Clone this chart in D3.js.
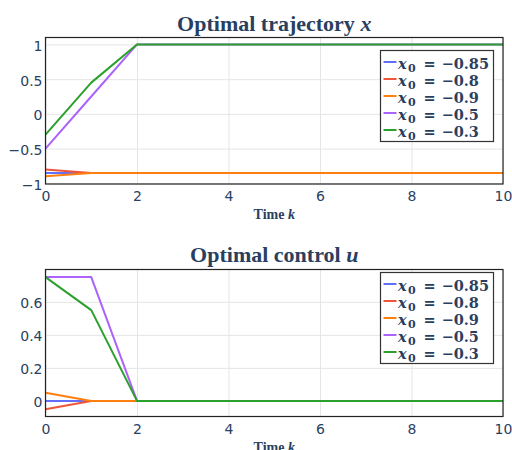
<!DOCTYPE html>
<html>
<head>
<meta charset="utf-8">
<script src="https://cdn.jsdelivr.net/npm/d3@7"></script>
<style>
  body { margin: 0; background: #fff; }
  svg { display: block; }
  .tick text { font-family: "DejaVu Sans", Verdana, sans-serif; font-size: 14px; fill: #2a3f5f; }
  .grid line { stroke: #e5e5e5; stroke-width: 1; }
  .grid .domain { display: none; }
</style>
</head>
<body>
<script>
'use strict';

var steps = [0, 1, 2, 3, 4, 5, 6, 7, 8, 9, 10];
var initLabels = ["\u22120.85", "\u22120.8", "\u22120.9", "\u22120.5", "\u22120.3"];
var colors = ["#636efa", "#ef553b", "#ff7f0e", "#ab63fa", "#2ca02c"];

// optimal trajectory x, one array per x0
var xA = [-0.85, -0.85, -0.85, -0.85, -0.85, -0.85, -0.85, -0.85, -0.85, -0.85, -0.85];
var xB = [-0.8, -0.85, -0.85, -0.85, -0.85, -0.85, -0.85, -0.85, -0.85, -0.85, -0.85];
var xC = [-0.9, -0.85, -0.85, -0.85, -0.85, -0.85, -0.85, -0.85, -0.85, -0.85, -0.85];
var xD = [-0.5, 0.25, 1, 1, 1, 1, 1, 1, 1, 1, 1];
var xE = [-0.3, 0.45, 1, 1, 1, 1, 1, 1, 1, 1, 1];

// optimal control u
var uA = [0, 0, 0, 0, 0, 0, 0, 0, 0, 0, 0];
var uB = [-0.05, 0, 0, 0, 0, 0, 0, 0, 0, 0, 0];
var uC = [0.05, 0, 0, 0, 0, 0, 0, 0, 0, 0, 0];
var uD = [0.75, 0.75, 0, 0, 0, 0, 0, 0, 0, 0, 0];
var uE = [0.75, 0.55, 0, 0, 0, 0, 0, 0, 0, 0, 0];

var xTicks = [0, 2, 4, 6, 8, 10];
var yTicksTop = [-1, -0.5, 0, 0.5, 1];
var yTicksBottom = [0, 0.2, 0.4, 0.6];

var svg = d3.select("body").append("svg")
    .attr("width", 512)
    .attr("height", 450);

function fmt(v) {
    return (v < 0 ? "\u2212" : "") + Math.abs(v);
}

function drawPanel(opts) {
    var left = 45.5, right = 503, top = opts.top, bottom = opts.bottom;
    var width = right - left, height = bottom - top;

    var x = d3.scaleLinear().domain([0, 10]).range([0, width]);
    var y = d3.scaleLinear().domain(opts.yDomain).range([height, 0]);

    var g = svg.append("g").attr("transform", "translate(" + left + "," + top + ")");

    g.append("g")
        .attr("class", "grid")
        .attr("transform", "translate(0," + height + ")")
        .call(d3.axisBottom(x).tickValues(xTicks).tickSize(-height).tickFormat(""));
    g.append("g")
        .attr("class", "grid")
        .call(d3.axisLeft(y).tickValues(opts.yTicks).tickSize(-width).tickFormat(""));

    var line = d3.line()
        .x(function (d, i) { return x(steps[i]); })
        .y(function (d) { return y(d); });

    opts.series.forEach(function (s, i) {
        g.append("path")
            .datum(s)
            .attr("fill", "none")
            .attr("stroke", colors[i])
            .attr("stroke-width", 2)
            .attr("stroke-linejoin", "round")
            .attr("d", line);
    });

    g.append("rect")
        .attr("x", 0).attr("y", 0)
        .attr("width", width).attr("height", height)
        .attr("fill", "none")
        .attr("stroke", "#222")
        .attr("stroke-width", 1.2);

    var xa = g.append("g")
        .attr("transform", "translate(0," + height + ")")
        .call(d3.axisBottom(x).tickValues(xTicks).tickSize(0).tickPadding(5).tickFormat(fmt));
    xa.select(".domain").remove();
    xa.selectAll("text").attr("dy", null).attr("y", 17);

    var ya = g.append("g")
        .call(d3.axisLeft(y).tickValues(opts.yTicks).tickSize(0).tickPadding(3).tickFormat(fmt));
    ya.select(".domain").remove();
    ya.selectAll("text").attr("dy", "0.42em");

    svg.append("text")
        .attr("x", left + width / 2)
        .attr("y", opts.titleY)
        .attr("text-anchor", "middle")
        .attr("font-family", "'Liberation Serif', serif")
        .attr("font-weight", "bold")
        .attr("font-size", 22)
        .attr("fill", "#2a3f5f")
        .call(function (t) {
            t.append("tspan").text(opts.title + " ");
            t.append("tspan").attr("font-style", "italic").text(opts.symbol);
        });

    svg.append("text")
        .attr("x", left + width / 2)
        .attr("y", bottom + 35)
        .attr("text-anchor", "middle")
        .attr("font-family", "'Liberation Serif', serif")
        .attr("font-weight", "bold")
        .attr("font-size", 14)
        .attr("fill", "#2a3f5f")
        .call(function (t) {
            t.append("tspan").text("Time ");
            t.append("tspan").attr("font-style", "italic").text("k");
        });

    // legend
    var lg = svg.append("g").attr("transform", "translate(380.5," + opts.legendTop + ")");
    lg.append("rect")
        .attr("width", 113).attr("height", 91)
        .attr("fill", "#fff")
        .attr("stroke", "#333")
        .attr("stroke-width", 1.2);
    initLabels.forEach(function (lab, i) {
        var row = lg.append("g").attr("transform", "translate(0," + (11.5 + i * 17) + ")");
        row.append("line")
            .attr("x1", 3).attr("x2", 16)
            .attr("stroke", colors[i]).attr("stroke-width", 2);
        var t = row.append("text")
            .attr("y", 7)
            .attr("font-family", "'DejaVu Serif', serif")
            .attr("font-weight", "bold")
            .attr("font-size", 14.5)
            .attr("fill", "#2a3f5f");
        t.append("tspan").attr("x", 17.5).attr("font-style", "italic").text("x");
        t.append("tspan").attr("x", 27.5).attr("dy", 3).attr("font-size", 11).text("0");
        t.append("tspan").attr("x", 43).attr("dy", -3).text("=");
        t.append("tspan").attr("x", 61).text(lab);
    });
}

drawPanel({
    top: 37.5, bottom: 184, yDomain: [-1.01, 1.1], yTicks: yTicksTop,
    series: [xA, xB, xC, xD, xE],
    title: "Optimal trajectory", symbol: "x", titleY: 31, legendTop: 50.5
});

drawPanel({
    top: 269.5, bottom: 416.5, yDomain: [-0.0945, 0.796], yTicks: yTicksBottom,
    series: [uA, uB, uC, uD, uE],
    title: "Optimal control", symbol: "u", titleY: 262, legendTop: 272.5
});
</script>
</body>
</html>
